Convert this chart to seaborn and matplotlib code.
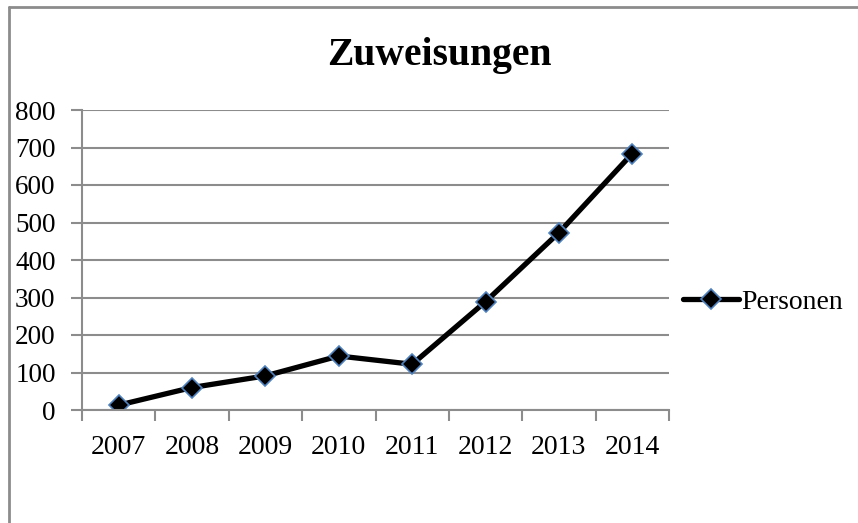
import seaborn as sns
import matplotlib.pyplot as plt
import pandas as pd
from matplotlib.ticker import FixedLocator, NullFormatter

years = ["2007", "2008", "2009", "2010", "2011", "2012", "2013", "2014"]
personen = [13, 60, 91, 144, 122, 289, 473, 684]
y_ticks = [0, 100, 200, 300, 400, 500, 600, 700, 800]

data = pd.DataFrame({"pos": range(len(years)), "Personen": personen})

sns.set_style("white")
plt.rcParams["font.family"] = ["Liberation Serif", "DejaVu Serif"]
plt.rcParams["text.color"] = "black"

fig = plt.figure(figsize=(8.58, 5.23), dpi=100)
ax = fig.add_axes([82 / 858, 113 / 523, 587 / 858, 300 / 523])

sns.lineplot(data=data, x="pos", y="Personen", ax=ax, color="black", linewidth=3.8,
             marker="D", markersize=10, markerfacecolor="black",
             markeredgecolor="#4f81bd", markeredgewidth=1.2, label="Personen", legend=False)

grid_col = "#8c8c8c"
ax.set_xlim(-0.5, len(years) - 0.5)
ax.set_ylim(0, 800)
ax.set_yticks(y_ticks)
ax.set_yticklabels([str(v) for v in y_ticks], fontsize=19.5, color="black")
ax.yaxis.grid(True, color=grid_col, linewidth=1.5)
ax.set_axisbelow(True)

ax.xaxis.set_major_locator(FixedLocator([i - 0.5 for i in range(len(years) + 1)]))
ax.xaxis.set_major_formatter(NullFormatter())
ax.xaxis.set_minor_locator(FixedLocator(list(range(len(years)))))
ax.set_xticklabels(years, minor=True, fontsize=20, color="black")
ax.tick_params(axis="x", which="major", length=8, width=1.5, color=grid_col, direction="out", bottom=True)
ax.tick_params(axis="x", which="minor", length=0, pad=18)
ax.tick_params(axis="y", length=8, width=1.5, color=grid_col, direction="out", left=True, pad=11)

for s in ["top", "right"]:
    ax.spines[s].set_visible(False)
for s in ["left", "bottom"]:
    ax.spines[s].set_color(grid_col)
    ax.spines[s].set_linewidth(1.5)
ax.set_xlabel("")
ax.set_ylabel("")

fig.text(439 / 858, 1 - 55 / 523, "Zuweisungen", ha="center", va="center",
         fontsize=28.5, fontweight="bold", color="black")

handles, labels = ax.get_legend_handles_labels()
fig.legend(handles, labels, loc="center left", bbox_to_anchor=(672 / 858, 1 - 302 / 523),
           frameon=False, fontsize=20, handlelength=2.0, handletextpad=0.1, borderaxespad=0)

# outer chart border
fig.add_artist(plt.Line2D([9 / 858, 1], [1 - 7 / 523, 1 - 7 / 523], color="#8c8c8c", linewidth=2))
fig.add_artist(plt.Line2D([9 / 858, 9 / 858], [0, 1 - 7 / 523], color="#8c8c8c", linewidth=2))

plt.savefig("out.png", dpi=100)
